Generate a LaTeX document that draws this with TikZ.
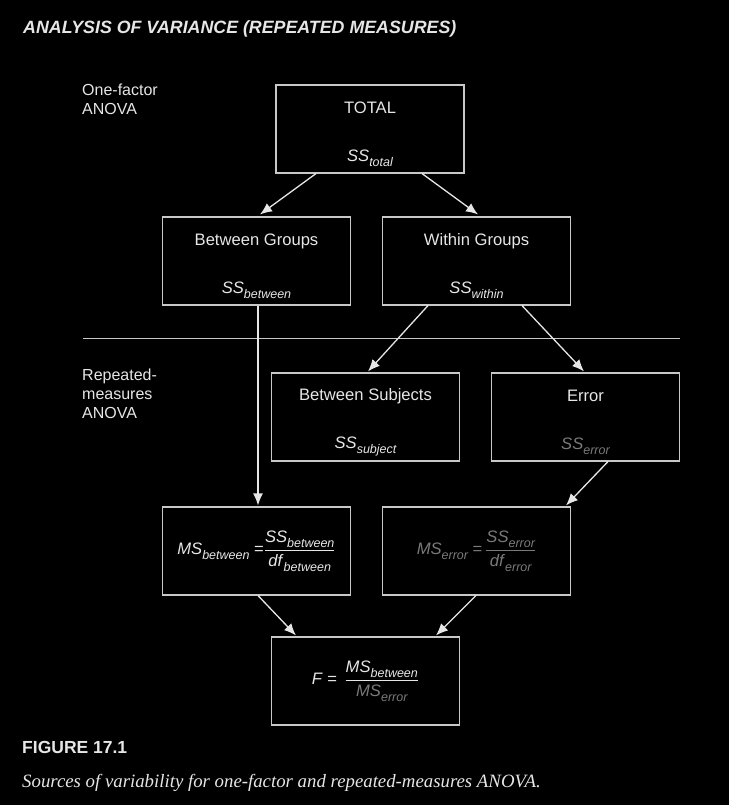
\documentclass[tikz,border=0pt]{standalone}
\usepackage{amsmath}
\usepackage{fontspec}
\setmainfont{Liberation Sans}
\newfontfamily\capfont{Liberation Serif}
\usetikzlibrary{arrows.meta}

\definecolor{ink}{HTML}{E6E6E6}
\definecolor{dim}{HTML}{7A7A7A}
\definecolor{rim}{HTML}{C8C8C8}

% italic symbol with lowered italic subscript
\newcommand\sym[2]{\textit{#1}\raisebox{-0.3em}{\fontsize{12.5}{12.5}\selectfont\itshape #2}}
% strut that pushes the two-line text down a little
\newcommand\topgap{\rule{0pt}{22pt}}

\tikzset{
  box/.style={draw=rim, line width=1.1pt, minimum width=188pt, minimum height=88pt,
    align=center, inner sep=0pt, text=ink, font=\fontsize{16.6}{19}\selectfont},
  flow/.style={draw=ink, line width=1.3pt, -{Latex[length=12pt,width=10pt]}},
  side/.style={anchor=north west, inner sep=0pt, align=left, text=ink,
    font=\fontsize{16}{19}\selectfont}
}

\begin{document}
\begin{tikzpicture}[x=1pt, y=-1pt]
  \fill[black] (0,0) rectangle (729,805);
  \useasboundingbox (0,0) rectangle (729,805);

  % title
  \node[anchor=base west, inner sep=0pt, text=ink, font=\fontsize{17.8}{20}\selectfont\bfseries\itshape]
    (title) at (23,34) {ANALYSIS OF VARIANCE (REPEATED MEASURES)};

  % row labels
  \node[side] (onefac) at (82,84) {One-factor\\ANOVA};
  \node[side] (repmea) at (82,369) {Repeated-\\measures\\ANOVA};

  % divider
  \coordinate (divl) at (83,338);
  \coordinate (divr) at (680,338);
  \draw[rim, line width=1pt] (divl) -- (divr);

  % boxes
  \node[box] (total) at (370,129) {\topgap TOTAL\\[29pt]\sym{SS}{total}};
  \node[box] (bg) at (256.5,261) {\topgap Between Groups\\[29pt]\sym{SS}{between}};
  \node[box] (wg) at (476.5,261) {\topgap Within Groups\\[29pt]\sym{SS}{within}};
  \node[box] (bs) at (365.5,417) {\topgap Between Subjects\\[29pt]\sym{SS}{subject}};
  \node[box] (err) at (585.5,417) {\topgap Error\\[29pt]\textcolor{dim}{\sym{SS}{error}}};
  \node[box] (msb) at (256.5,551)
    {\sym{MS}{between} $\text{=}\dfrac{\text{\sym{SS}{between}}}{\text{\sym{df}{between}}}$};
  \node[box, text=dim] (mse) at (476.5,551)
    {\sym{MS}{error} $\text{=}\,\dfrac{\text{\sym{SS}{error}}}{\text{\sym{df}{error}}}$};
  \node[box] (fbox) at (365.5,681)
    {\textit{F} = \,$\dfrac{\text{\sym{MS}{between}}}{\text{\color{dim}\sym{MS}{error}}}$};

  % connectors
  \draw[flow] ([xshift=-54pt]total.south) -- ([xshift=3.5pt,yshift=2pt]bg.north);
  \draw[flow] ([xshift=52pt]total.south) -- ([xshift=1.5pt,yshift=2pt]wg.north);
  \draw[flow] ([xshift=1.5pt]bg.south) -- ([xshift=1.5pt,yshift=1pt]msb.north);
  \draw[flow] ([xshift=-48.5pt]wg.south) -- ([xshift=2.5pt,yshift=1pt]bs.north);
  \draw[flow] ([xshift=45.5pt]wg.south) -- ([xshift=-1.5pt,yshift=1pt]err.north);
  \draw[flow] ([xshift=22.5pt]err.south) -- ([xshift=89.5pt,yshift=1pt]mse.north);
  \draw[flow] ([xshift=1.5pt]msb.south) -- ([xshift=-69.5pt,yshift=1pt]fbox.north);
  \draw[flow] ([xshift=-0.5pt]mse.south) -- ([xshift=70.5pt,yshift=1pt]fbox.north);

  % caption
  \node[anchor=base west, inner sep=0pt, text=ink, font=\fontsize{17.5}{20}\selectfont\bfseries]
    (fignum) at (22,753) {FIGURE 17.1};
  \node[anchor=base west, inner sep=0pt, text=ink, font=\capfont\fontsize{18.8}{22}\selectfont\itshape]
    (figcap) at (22,787) {Sources of variability for one-factor and repeated-measures ANOVA.};
\end{tikzpicture}
\end{document}
